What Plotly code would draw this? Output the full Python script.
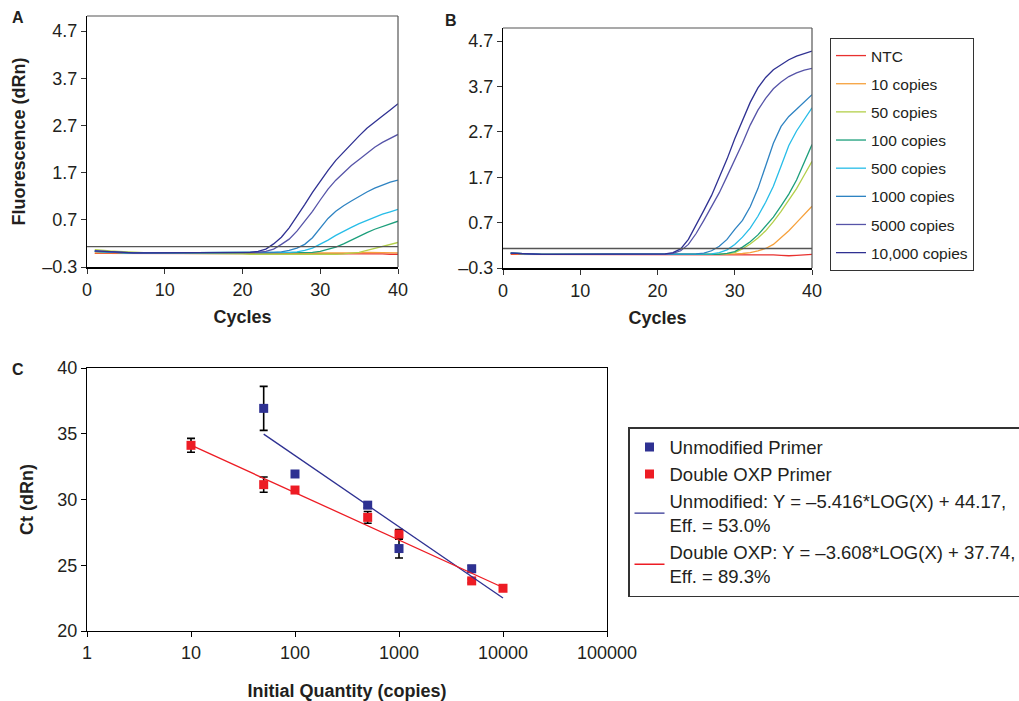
import plotly.graph_objects as go

# ---------------- data ----------------
cycles = list(range(1, 41))
series_names = ["NTC", "10 copies", "50 copies", "100 copies", "500 copies",
                "1000 copies", "5000 copies", "10,000 copies"]
series_colors = ["#e8312f", "#f6a13c", "#b3cf4a", "#1c9f7b", "#27bde8",
                 "#2e83c2", "#5654a8", "#2f3192"]

# Panel A amplification curves (dRn per cycle)
A_ntc = [-0.01, -0.01, -0.01, -0.01, -0.01, -0.01, -0.01, -0.01, -0.01, -0.01,
         -0.01, -0.01, -0.01, -0.01, -0.01, -0.01, -0.01, -0.01, -0.01, -0.01,
         -0.01, -0.01, -0.01, -0.01, -0.01, -0.01, -0.01, -0.01, -0.01, -0.01,
         -0.01, -0.01, -0.01, -0.01, -0.01, -0.01, -0.02, -0.02, -0.03, -0.03]
A_10 = [0.0, 0.0, -0.01, -0.01, -0.01, -0.01, -0.01, -0.01, -0.01, -0.01,
        -0.01, -0.01, -0.01, -0.01, -0.01, -0.01, -0.01, -0.01, -0.01, -0.01,
        -0.01, -0.01, -0.01, -0.01, -0.01, -0.01, -0.01, -0.01, -0.01, -0.01,
        -0.01, -0.01, -0.01, -0.01, 0.0, 0.01, 0.01, 0.01, 0.01, 0.0]
A_50 = [0.07, 0.05, 0.04, 0.03, 0.02, 0.01, 0.0, 0.0, 0.0, -0.01,
        -0.01, -0.01, -0.01, -0.01, -0.01, -0.02, -0.02, -0.02, -0.02, -0.02,
        -0.03, -0.03, -0.03, -0.03, -0.04, -0.04, -0.04, -0.04, -0.04, -0.04,
        -0.03, -0.03, -0.02, -0.01, 0.01, 0.05, 0.09, 0.13, 0.18, 0.22]
A_100 = [0.03, 0.02, 0.01, 0.01, 0.0, 0.0, 0.0, 0.0, 0.0, 0.0,
         0.0, 0.0, 0.0, 0.0, 0.0, 0.0, 0.0, 0.0, 0.0, 0.0,
         0.0, 0.0, 0.0, 0.0, 0.0, 0.0, 0.0, 0.0, 0.01, 0.03,
         0.07, 0.12, 0.19, 0.27, 0.36, 0.43, 0.50, 0.56, 0.62, 0.67]
A_500 = [0.03, 0.02, 0.01, 0.01, 0.0, 0.0, 0.0, 0.0, 0.0, 0.0,
         0.0, 0.0, 0.0, 0.0, 0.0, 0.0, 0.0, 0.0, 0.0, 0.0,
         0.0, 0.0, 0.0, 0.0, 0.0, 0.01, 0.02, 0.05, 0.10, 0.18,
         0.27, 0.37, 0.46, 0.54, 0.62, 0.69, 0.76, 0.82, 0.87, 0.92]
A_1000 = [0.03, 0.02, 0.01, 0.01, 0.0, 0.0, 0.0, 0.0, 0.0, 0.0,
          0.0, 0.0, 0.0, 0.0, 0.0, 0.0, 0.0, 0.0, 0.0, 0.0,
          0.0, 0.0, 0.0, 0.01, 0.02, 0.05, 0.10, 0.18, 0.32, 0.52,
          0.73, 0.88, 1.00, 1.10, 1.20, 1.29, 1.37, 1.44, 1.50, 1.54]
A_5000 = [0.04, 0.03, 0.02, 0.01, 0.01, 0.0, 0.0, 0.0, 0.0, 0.0,
          0.0, 0.0, 0.0, 0.0, 0.0, 0.0, 0.0, 0.0, 0.0, 0.0,
          0.0, 0.01, 0.03, 0.08, 0.18, 0.29, 0.46, 0.67, 0.88, 1.12,
          1.35, 1.54, 1.70, 1.85, 1.98, 2.12, 2.24, 2.34, 2.42, 2.51]
A_10000 = [0.04, 0.03, 0.02, 0.01, 0.01, 0.0, 0.0, 0.0, 0.0, 0.0,
           0.0, 0.0, 0.0, 0.0, 0.0, 0.0, 0.0, 0.0, 0.0, 0.0,
           0.01, 0.03, 0.08, 0.19, 0.33, 0.53, 0.77, 1.02, 1.28, 1.52,
           1.75, 1.96, 2.14, 2.32, 2.48, 2.64, 2.78, 2.90, 3.03, 3.16]

# Panel B amplification curves (dRn per cycle)
B_ntc = [0.0, 0.0, 0.0, 0.0, 0.0, 0.0, 0.0, 0.0, 0.0, 0.0,
         0.0, 0.0, 0.0, 0.0, 0.0, 0.0, 0.0, 0.0, 0.0, 0.0,
         0.0, 0.0, 0.0, 0.0, 0.0, 0.0, 0.0, 0.0, 0.0, -0.01,
         -0.01, -0.01, 0.0, 0.0, -0.01, -0.02, -0.03, -0.02, -0.01, 0.0]
B_10 = [0.02, 0.01, 0.01, 0.0, 0.0, 0.0, 0.0, 0.0, 0.0, 0.0,
        0.0, 0.0, 0.0, 0.0, 0.0, 0.0, 0.0, 0.0, 0.0, 0.0,
        0.0, 0.0, 0.0, 0.0, 0.0, 0.0, 0.0, 0.0, 0.0, 0.01,
        0.02, 0.04, 0.08, 0.13, 0.22, 0.36, 0.52, 0.70, 0.88, 1.06]
B_50 = [0.03, 0.02, 0.01, 0.0, 0.0, 0.0, 0.0, 0.0, 0.0, 0.0,
        0.0, 0.0, 0.0, 0.0, 0.0, 0.0, 0.0, 0.0, 0.0, 0.0,
        0.0, 0.0, 0.0, 0.0, 0.0, 0.0, 0.0, 0.0, 0.01, 0.04,
        0.12, 0.23, 0.36, 0.52, 0.72, 0.95, 1.20, 1.45, 1.75, 2.05]
B_100 = [0.03, 0.02, 0.01, 0.0, 0.0, 0.0, 0.0, 0.0, 0.0, 0.0,
         0.0, 0.0, 0.0, 0.0, 0.0, 0.0, 0.0, 0.0, 0.0, 0.0,
         0.0, 0.0, 0.0, 0.0, 0.0, 0.0, 0.0, 0.0, 0.02, 0.06,
         0.16, 0.28, 0.43, 0.62, 0.82, 1.07, 1.33, 1.64, 2.02, 2.42]
B_500 = [0.03, 0.02, 0.01, 0.0, 0.0, 0.0, 0.0, 0.0, 0.0, 0.0,
         0.0, 0.0, 0.0, 0.0, 0.0, 0.0, 0.0, 0.0, 0.0, 0.0,
         0.0, 0.0, 0.0, 0.0, 0.0, 0.0, 0.01, 0.04, 0.10, 0.22,
         0.38, 0.58, 0.84, 1.15, 1.50, 1.95, 2.40, 2.72, 2.98, 3.23]
B_1000 = [0.03, 0.02, 0.01, 0.0, 0.0, 0.0, 0.0, 0.0, 0.0, 0.0,
          0.0, 0.0, 0.0, 0.0, 0.0, 0.0, 0.0, 0.0, 0.0, 0.0,
          0.0, 0.0, 0.0, 0.0, 0.01, 0.03, 0.08, 0.18, 0.33, 0.55,
          0.75, 1.05, 1.45, 1.95, 2.45, 2.82, 3.04, 3.20, 3.36, 3.52]
B_5000 = [0.03, 0.02, 0.01, 0.0, 0.0, 0.0, 0.0, 0.0, 0.0, 0.0,
          0.0, 0.0, 0.0, 0.0, 0.0, 0.0, 0.0, 0.0, 0.0, 0.0,
          0.0, 0.02, 0.08, 0.22, 0.46, 0.75, 1.05, 1.36, 1.72, 2.08,
          2.45, 2.85, 3.18, 3.44, 3.65, 3.80, 3.92, 4.00, 4.06, 4.10]
B_10000 = [0.03, 0.02, 0.01, 0.0, 0.0, 0.0, 0.0, 0.0, 0.0, 0.0,
           0.0, 0.0, 0.0, 0.0, 0.0, 0.0, 0.0, 0.0, 0.0, 0.0,
           0.01, 0.04, 0.12, 0.33, 0.64, 0.97, 1.30, 1.68, 2.10, 2.55,
           2.97, 3.35, 3.67, 3.90, 4.07, 4.19, 4.29, 4.37, 4.43, 4.48]

threshold_A = 0.13
threshold_B = 0.13
dRn_tickvals = [-0.3, 0.7, 1.7, 2.7, 3.7, 4.7]
dRn_ticktext = ["\u20130.3", "0.7", "1.7", "2.7", "3.7", "4.7"]
cycle_ticks = [0, 10, 20, 30, 40]

# Panel C standard curves
unmod_qty = [50, 100, 500, 1000, 5000]
unmod_ct = [36.93, 31.94, 29.57, 26.27, 24.73]
unmod_err = [1.67, 0.20, 0.20, 0.72, 0.25]
oxp_qty = [10, 50, 100, 500, 1000, 5000, 10000]
oxp_ct = [34.12, 31.13, 30.72, 28.64, 27.37, 23.81, 23.25]
oxp_err = [0.53, 0.58, 0.15, 0.45, 0.35, 0.15, 0.10]
unmod_fit_x = [50, 10000]
unmod_fit_y = [34.97, 22.51]
oxp_fit_x = [10, 10000]
oxp_fit_y = [34.13, 23.31]
qty_ticks = [1, 10, 100, 1000, 10000, 100000]
qty_ticktext = ["1", "10", "100", "1000", "10000", "100000"]
ct_ticks = [20, 25, 30, 35, 40]

A_series = [A_ntc, A_10, A_50, A_100, A_500, A_1000, A_5000, A_10000]
B_series = [B_ntc, B_10, B_50, B_100, B_500, B_1000, B_5000, B_10000]

FONT = "Liberation Sans, Arial, sans-serif"
TXT = "#231f20"

fig = go.Figure()

for name, col, ya in zip(series_names, series_colors, A_series):
    fig.add_trace(go.Scatter(x=cycles, y=ya, mode="lines", name=name,
                             line=dict(color=col, width=1.3), showlegend=False,
                             legendgroup=name, xaxis="x", yaxis="y"))
for name, col, yb in zip(series_names, series_colors, B_series):
    fig.add_trace(go.Scatter(x=cycles, y=yb, mode="lines", name=name,
                             line=dict(color=col, width=1.3), showlegend=True,
                             legend="legend", legendgroup=name,
                             xaxis="x2", yaxis="y2"))

BLUE = "#2e3192"
RED = "#ed1c24"
fig.add_trace(go.Scatter(x=unmod_qty, y=unmod_ct, mode="markers", name="Unmodified Primer",
                         marker=dict(symbol="square", size=9, color=BLUE),
                         error_y=dict(type="data", array=unmod_err, color="black",
                                      thickness=1.6, width=4),
                         legend="legend2", legendgroup="u", xaxis="x3", yaxis="y3"))
fig.add_trace(go.Scatter(x=oxp_qty, y=oxp_ct, mode="markers", name="Double OXP Primer",
                         marker=dict(symbol="square", size=9, color=RED),
                         error_y=dict(type="data", array=oxp_err, color="black",
                                      thickness=1.6, width=4),
                         legend="legend2", legendgroup="o", xaxis="x3", yaxis="y3"))
fig.add_trace(go.Scatter(x=unmod_fit_x, y=unmod_fit_y, mode="lines",
                         name="Unmodified: Y = \u20135.416*LOG(X) + 44.17,<br>Eff. = 53.0%",
                         line=dict(color=BLUE, width=1.3),
                         legend="legend2", legendgroup="uf", xaxis="x3", yaxis="y3"))
fig.add_trace(go.Scatter(x=oxp_fit_x, y=oxp_fit_y, mode="lines",
                         name="Double OXP: Y = \u20133.608*LOG(X) + 37.74,<br>Eff. = 89.3%",
                         line=dict(color=RED, width=1.3),
                         legend="legend2", legendgroup="of", xaxis="x3", yaxis="y3"))

W, H = 1019, 701
def px_x(p):
    return p / W
def px_y(p):
    return 1 - p / H

tickfont = dict(family=FONT, size=18, color=TXT)
titlefont = dict(family=FONT, size=18, color=TXT, weight="bold")

common_x = dict(range=[0, 40], tickvals=cycle_ticks, ticks="outside", ticklen=5,
                tickcolor="#333", showline=True, linecolor="black", linewidth=2,
                showgrid=False, zeroline=False, tickfont=tickfont, automargin=False)
common_y = dict(tickvals=dRn_tickvals, ticktext=dRn_ticktext, ticks="outside", ticklen=5,
                tickcolor="#333", showline=True, linecolor="black", linewidth=1,
                showgrid=False, zeroline=False, tickfont=tickfont, automargin=False)

fig.update_layout(
    width=W, height=H,
    margin=dict(l=0, r=0, t=0, b=0, autoexpand=False),
    paper_bgcolor="white", plot_bgcolor="white",
    font=dict(family=FONT, color=TXT),
    xaxis=dict(domain=[px_x(87), px_x(398)], anchor="y",
               title=dict(text="Cycles", font=titlefont, standoff=12), **common_x),
    yaxis=dict(domain=[px_y(267), px_y(16)], anchor="x", range=[-0.3, 5.02],
               title=dict(text="Fluorescence (dRn)", font=titlefont, standoff=12), **common_y),
    xaxis2=dict(domain=[px_x(503), px_x(812)], anchor="y2",
                title=dict(text="Cycles", font=titlefont, standoff=12), **common_x),
    yaxis2=dict(domain=[px_y(268), px_y(28)], anchor="x2", range=[-0.3, 4.99], **common_y),
    xaxis3=dict(domain=[px_x(87), px_x(607)], anchor="y3", type="log", range=[0, 5],
                tickvals=qty_ticks, ticktext=qty_ticktext, ticks="outside", ticklen=5,
                tickcolor="black", showline=True, linecolor="black", linewidth=1.2,
                mirror=True, showgrid=False, zeroline=False, tickfont=tickfont,
                automargin=False,
                title=dict(text="Initial Quantity (copies)", font=titlefont, standoff=22)),
    yaxis3=dict(domain=[px_y(631), px_y(368)], anchor="x3", range=[20, 40],
                tickvals=ct_ticks, ticks="outside", ticklen=5, tickcolor="black",
                showline=True, linecolor="black", linewidth=1.2, mirror=True,
                showgrid=False, zeroline=False, tickfont=tickfont, automargin=False,
                title=dict(text="Ct (dRn)", font=titlefont, standoff=18)),
    legend=dict(x=px_x(830), y=px_y(38), xanchor="left", yanchor="top",
                bordercolor="#333", borderwidth=1, bgcolor="white",
                font=dict(family=FONT, size=15.5, color=TXT),
                tracegroupgap=5, itemwidth=30),
    legend2=dict(x=px_x(628), y=px_y(427), xanchor="left", yanchor="top",
                 bordercolor="#333", borderwidth=1.5, bgcolor="white",
                 font=dict(family=FONT, size=18.5, color=TXT),
                 tracegroupgap=0, itemwidth=30),
    showlegend=True,
)

# top/right gray frame lines of panels A and B, threshold lines
for xr, yr in [("x", "y"), ("x2", "y2")]:
    fig.add_shape(type="line", xref=f"{xr} domain", yref=f"{yr} domain",
                  x0=0, x1=1, y0=1, y1=1, line=dict(color="#555", width=1.2))
    fig.add_shape(type="line", xref=f"{xr} domain", yref=f"{yr} domain",
                  x0=1, x1=1, y0=0, y1=1, line=dict(color="#555", width=1.2))
fig.add_shape(type="line", xref="x domain", yref="y", x0=0, x1=1,
              y0=threshold_A, y1=threshold_A, line=dict(color="#555", width=1.3))
fig.add_shape(type="line", xref="x2 domain", yref="y2", x0=0, x1=1,
              y0=threshold_B, y1=threshold_B, line=dict(color="#555", width=1.3))

for letter, px, py in [("A", 18, 18), ("B", 451, 20), ("C", 18, 370)]:
    fig.add_annotation(text=letter, x=px_x(px), y=px_y(py), xref="paper", yref="paper",
                       showarrow=False, xanchor="center", yanchor="middle",
                       font=dict(family=FONT, size=16, color=TXT, weight="bold"))

fig.write_html("out.html", config={"displayModeBar": False},
               post_script="document.body.style.margin='0';document.body.style.overflow='hidden';")
